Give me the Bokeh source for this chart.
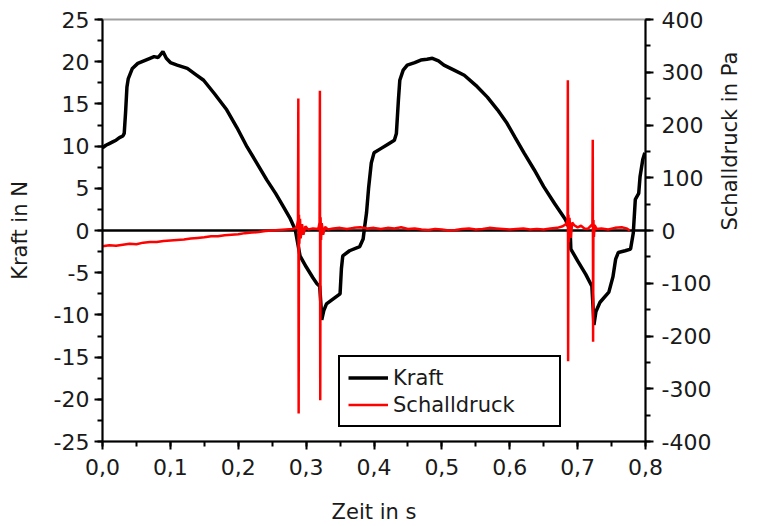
import math
from bokeh.plotting import figure
from bokeh.models import (Range1d, LinearAxis, SingleIntervalTicker, CustomJSTickFormatter,
                          Span, Legend, LegendItem)
from bokeh.embed import file_html
from bokeh.resources import INLINE

# ---- data ----
kraft_t = [0.000, 0.005, 0.010, 0.015, 0.020, 0.025, 0.030, 0.032, 0.034, 0.036, 0.038, 0.044,
           0.052, 0.061, 0.070, 0.076, 0.082, 0.089, 0.094, 0.100, 0.110, 0.125, 0.137, 0.149,
           0.165, 0.183, 0.198, 0.213, 0.228, 0.242, 0.255, 0.266, 0.276, 0.284, 0.291, 0.300,
           0.310, 0.316, 0.320, 0.322, 0.323, 0.326, 0.330, 0.340, 0.350, 0.352, 0.354, 0.364,
           0.379, 0.384, 0.386, 0.389, 0.392, 0.396, 0.400, 0.410, 0.420, 0.430, 0.433, 0.436,
           0.438, 0.443, 0.449, 0.460, 0.469, 0.478, 0.486, 0.495, 0.503, 0.518, 0.533, 0.550,
           0.567, 0.582, 0.596, 0.608, 0.621, 0.636, 0.650, 0.666, 0.682, 0.689, 0.690, 0.700,
           0.712, 0.721, 0.723, 0.724, 0.727, 0.733, 0.746, 0.752, 0.756, 0.760, 0.770, 0.778,
           0.782, 0.785, 0.790, 0.792, 0.796, 0.799]
kraft_n = [9.8, 10.1, 10.3, 10.5, 10.7, 11.0, 11.2, 11.5, 14.0, 17.0, 18.0, 19.2,
           19.8, 20.1, 20.4, 20.6, 20.5, 21.2, 20.4, 19.9, 19.6, 19.2, 18.5, 17.8,
           16.2, 14.3, 12.2, 9.9, 7.9, 6.0, 4.4, 2.9, 1.5, 0.1, -3.0, -4.3,
           -5.6, -6.3, -6.6, -9.0, -10.6, -9.5, -8.7, -8.1, -7.5, -4.5, -3.0, -2.4,
           -1.9, -1.0, 0.3, 2.1, 5.0, 8.0, 9.2, 9.7, 10.2, 10.7, 11.5, 15.5,
           17.8, 19.0, 19.6, 19.9, 20.2, 20.3, 20.4, 20.1, 19.6, 19.0, 18.4, 17.2,
           15.8, 14.3, 12.7, 11.0, 9.2, 7.2, 5.2, 3.2, 1.3, 0.0, -2.2, -3.6,
           -5.2, -6.6, -9.5, -11.2, -9.6, -8.5, -7.3, -5.5, -3.4, -2.6, -2.4, -2.2,
           -0.3, 3.7, 4.4, 6.4, 8.4, 9.2]

schall_t = [0.000, 0.010, 0.020, 0.030, 0.040, 0.050, 0.060, 0.070, 0.080, 0.090, 0.100, 0.110,
            0.120, 0.130, 0.140, 0.150, 0.160, 0.170, 0.180, 0.190, 0.200, 0.210, 0.220, 0.230,
            0.240, 0.250, 0.260, 0.270, 0.280, 0.286,
            0.2880, 0.2885, 0.2890, 0.2895, 0.290, 0.291, 0.292, 0.294, 0.296, 0.299, 0.303, 0.310,
            0.318, 0.3198, 0.3203, 0.3208, 0.3213, 0.322, 0.323, 0.325, 0.328, 0.332, 0.340, 0.350,
            0.360, 0.370, 0.380, 0.390, 0.400, 0.410, 0.420, 0.430, 0.440, 0.450, 0.460, 0.470,
            0.480, 0.490, 0.500, 0.510, 0.520, 0.530, 0.540, 0.550, 0.560, 0.570, 0.580, 0.590,
            0.600, 0.610, 0.620, 0.630, 0.640, 0.650, 0.660, 0.670, 0.678, 0.683,
            0.6852, 0.6856, 0.6860, 0.6865, 0.687, 0.688, 0.690, 0.692, 0.695, 0.700, 0.705, 0.710,
            0.715, 0.7218, 0.7223, 0.7228, 0.7233, 0.724, 0.725, 0.728, 0.735, 0.745, 0.755, 0.765,
            0.772, 0.777]
schall_pa = [-30, -28, -29, -27, -25, -26, -23, -22, -22, -20, -19, -18,
             -17, -15, -14, -13, -11, -11, -9, -8, -7, -5, -4, -3,
             -1, 0, 1, 2, 3, 5,
             20, 250, -347, 30, -25, 22, -15, 12, -8, 8, 2, 4,
             3, 15, 265, -322, 25, -18, 14, -8, 7, 2, 4, 5,
             3, 5, 6, 4, 5, 3, 5, 4, 6, 3, 4, 2,
             1, 3, 2, 0, 1, 3, 4, 2, 3, 5, 4, 3,
             2, 3, 4, 2, 3, 2, 4, 5, 8, 12,
             20, 285, -248, 30, -22, 24, -14, 15, 10, 6, 9, 4,
             3, 12, 172, -211, 20, -12, 10, 3, 4, 2, 5, 6,
             4, 0]

x_title = "Zeit in s"
y_title = "Kraft in N"
y2_title = "Schalldruck in Pa"
series_names = ["Kraft", "Schalldruck"]

FONT = "DejaVu Sans"
TXT = "#1a1a1a"

p = figure(width=757, height=526, output_backend="svg", toolbar_location=None,
           x_range=Range1d(0, 0.8), y_range=Range1d(-25, 25),
           min_border_left=102, min_border_right=110, min_border_top=19, min_border_bottom=83)
p.background_fill_color = "white"
p.border_fill_color = "white"
p.grid.visible = False
p.outline_line_color = "#a0a0a0"
p.outline_line_width = 2

p.extra_y_ranges = {"pa": Range1d(-400, 400)}

zero = Span(location=0, dimension="width", line_color="black", line_width=2.5, level="underlay")
p.add_layout(zero)

r_k = p.line(kraft_t, kraft_n, line_color="black", line_width=3.5)
r_s = p.line(schall_t, schall_pa, line_color="#ff0000", line_width=2.5, y_range_name="pa")

def style(ax):
    ax.axis_line_width = 2
    ax.axis_line_color = "black"
    ax.major_tick_line_width = 2
    ax.minor_tick_line_width = 2
    ax.major_tick_out = 8
    ax.major_tick_in = 0
    ax.minor_tick_out = 5
    ax.minor_tick_in = 0
    ax.major_label_text_font = FONT
    ax.major_label_text_font_size = "22px"
    ax.major_label_text_color = TXT
    ax.axis_label_text_font = FONT
    ax.axis_label_text_font_size = "21px"
    ax.axis_label_text_font_style = "normal"
    ax.axis_label_text_color = TXT

xa = p.xaxis[0]
xa.ticker = SingleIntervalTicker(interval=0.1, num_minor_ticks=2)
xa.formatter = CustomJSTickFormatter(code="return tick.toFixed(1).replace('.', ',');")
xa.axis_label = x_title
style(xa)
xa.major_label_standoff = 9
xa.axis_label_standoff = 22

int_fmt = "return Math.round(tick).toString();"

ya = p.yaxis[0]
ya.ticker = SingleIntervalTicker(interval=5, num_minor_ticks=2)
ya.formatter = CustomJSTickFormatter(code=int_fmt)
ya.axis_label = y_title
style(ya)
ya.major_label_standoff = 5
ya.axis_label_standoff = 19

ra = LinearAxis(y_range_name="pa", axis_label=y2_title,
                ticker=SingleIntervalTicker(interval=100, num_minor_ticks=2),
                formatter=CustomJSTickFormatter(code=int_fmt))
style(ra)
ra.major_label_standoff = 8
ra.axis_label_standoff = 16
ra.axis_label_orientation = math.pi / 2
p.add_layout(ra, "right")

legend = Legend(items=[LegendItem(label=series_names[0], renderers=[r_k]),
                       LegendItem(label=series_names[1], renderers=[r_s])],
                location=(236, 14))
legend.label_text_font = FONT
legend.label_text_font_size = "21px"
legend.label_text_color = TXT
legend.border_line_color = "black"
legend.border_line_alpha = 1.0
legend.border_line_width = 2.5
legend.padding = 8
legend.spacing = 2
legend.margin = 0
legend.glyph_width = 40
legend.glyph_height = 25
legend.label_height = 25
legend.label_standoff = 5
legend.label_width = 158
legend.background_fill_color = "white"
legend.background_fill_alpha = 1.0
p.add_layout(legend, "center")

open("out.html", "w").write(file_html(p, INLINE))
